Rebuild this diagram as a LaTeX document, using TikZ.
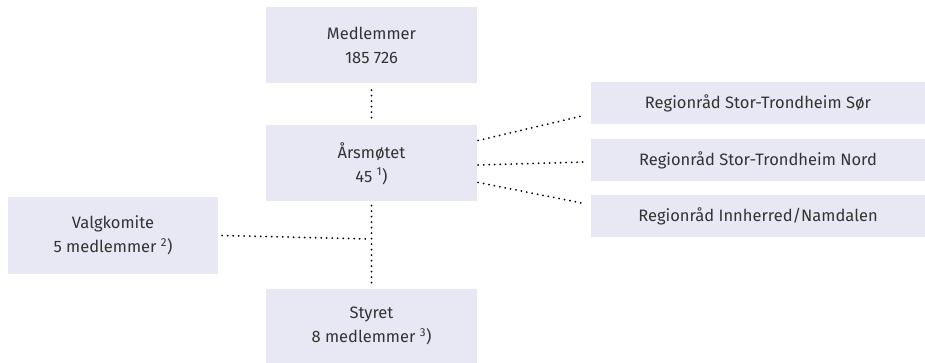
\documentclass[tikz,border=0pt]{standalone}
\usepackage{fontspec}
\setmainfont{Fira Sans}
\usetikzlibrary{positioning,calc}
\definecolor{boxfill}{HTML}{E8E8F4}
\definecolor{boxtext}{HTML}{333333}

\begin{document}
\begin{tikzpicture}[%
    x=1pt,
    y=-1pt,
    org/.style={fill=boxfill, text=boxtext, align=center, inner sep=0pt,
      font=\fontsize{16.5}{24}\selectfont},
    unit/.style={org, minimum width=211pt, minimum height=76pt},
    region/.style={org, minimum width=334pt, minimum height=42pt},
    link/.style={draw=black, line width=2pt, line cap=round,
      dash pattern=on 0pt off 5.5pt}
  ]
  \useasboundingbox (0,0) rectangle (925,363);

  \node[unit] (medl) at (371.5,45) {Medlemmer\\185 726};
  \node[unit] (aars) at (371.5,163.5) {Årsmøtet\\45 \textsuperscript{1})};
  \node[unit, minimum width=210pt] (valg) at (113,235.5) {Valgkomite\\5 medlemmer \textsuperscript{2})};
  \node[unit, minimum height=74pt] (styr) at (371.5,326) {Styret\\8 medlemmer \textsuperscript{3})};

  \node[region] (sor) at (758,103) {Regionråd Stor-Trondheim Sør};
  \node[region] (nord) at (758,160.5) {Regionråd Stor-Trondheim Nord};
  \node[region] (innh) at (758,216) {Regionråd Innherred/Namdalen};

  \coordinate (junc) at (370,239);

  \path[link] ([yshift=-7pt]medl.south) edge ([yshift=5pt]aars.north);
  \path[link] ([yshift=-4pt]aars.south) edge ([yshift=3pt]styr.north);
  \path[link] ([xshift=4pt]valg.east) edge (junc);

  \path[link] ([xshift=1pt,yshift=23pt]aars.east) edge ([xshift=-9pt,yshift=-13pt]sor.west);
  \path[link] ([xshift=1pt,yshift=-1.5pt]aars.east) edge ([xshift=-6pt,yshift=-1.5pt]nord.west);
  \path[link] ([xshift=1pt,yshift=-19pt]aars.east) edge ([xshift=-9pt,yshift=13pt]innh.west);
\end{tikzpicture}
\end{document}
